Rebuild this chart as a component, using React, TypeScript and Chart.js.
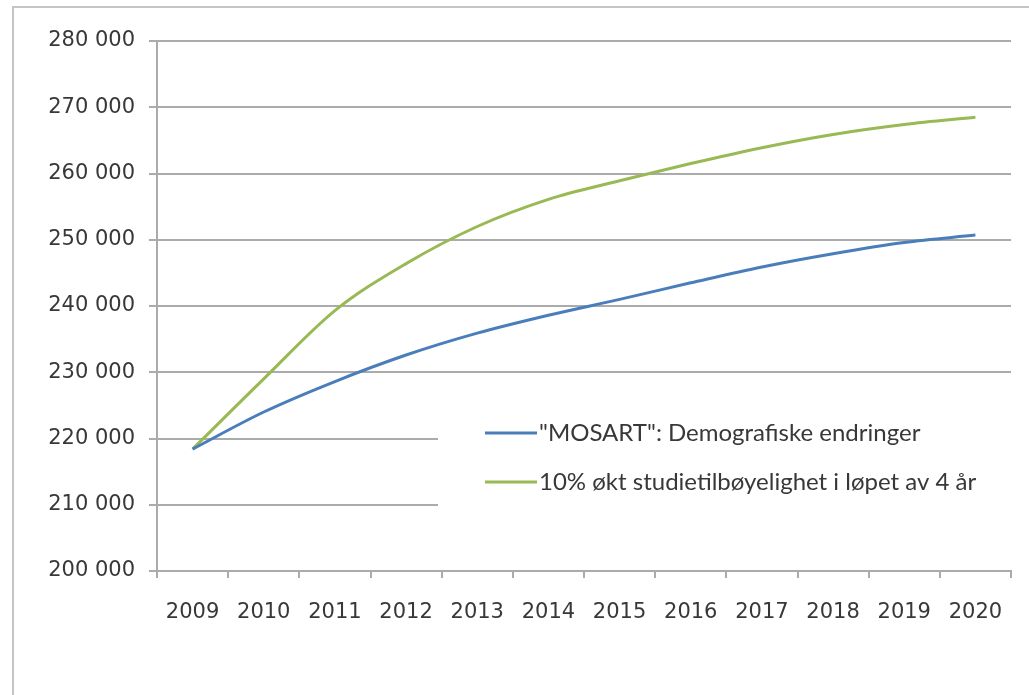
import React, { useEffect, useRef } from "react";
import { Chart, registerables } from "chart.js";

Chart.register(...registerables);

const years = ["2009", "2010", "2011", "2012", "2013", "2014", "2015", "2016", "2017", "2018", "2019", "2020"];
const mosart = [218400, 224000, 228600, 232600, 235900, 238600, 241000, 243500, 245900, 247900, 249600, 250700];
const increased = [218400, 229000, 239300, 246400, 252000, 256100, 258900, 261500, 263900, 265900, 267400, 268500];
const seriesLabels = ['"MOSART": Demografiske endringer', "10% økt studietilbøyelighet i løpet av 4 år"];
const seriesColors = ["#4A7EBB", "#98B954"];
const yMin = 200000;
const yMax = 280000;
const yStep = 10000;

const GRID = "#ababab";
const TEXT = "#383838";

const formatThousands = (v: number) => String(v).replace(/\B(?=(\d{3})+(?!\d))/g, " ");

const insideLegend = {
  id: "insideLegend",
  beforeDatasetsDraw(chart: any) {
    const { ctx, chartArea } = chart;
    ctx.save();
    ctx.fillStyle = "#ffffff";
    ctx.fillRect(438, 385, chartArea.right - 438, 170);
    const rows = [433, 482];
    chart.data.datasets.forEach((ds: any, i: number) => {
      const y = rows[i];
      ctx.strokeStyle = ds.borderColor;
      ctx.lineWidth = 3;
      ctx.beginPath();
      ctx.moveTo(485, y);
      ctx.lineTo(537, y);
      ctx.stroke();
      ctx.fillStyle = TEXT;
      ctx.font = "24px Lato";
      ctx.textAlign = "left";
      ctx.textBaseline = "middle";
      ctx.fillText(ds.label, 539, y);
    });
    ctx.restore();
  },
};

export default function App() {
  const canvasRef = useRef<HTMLCanvasElement | null>(null);

  useEffect(() => {
    if (!canvasRef.current) return;
    const chart = new Chart(canvasRef.current, {
      type: "line",
      data: {
        labels: years,
        datasets: [
          {
            label: seriesLabels[0],
            data: mosart,
            borderColor: seriesColors[0],
            backgroundColor: seriesColors[0],
            borderWidth: 3,
            pointRadius: 0,
            cubicInterpolationMode: "monotone",
            fill: false,
          },
          {
            label: seriesLabels[1],
            data: increased,
            borderColor: seriesColors[1],
            backgroundColor: seriesColors[1],
            borderWidth: 3,
            pointRadius: 0,
            cubicInterpolationMode: "monotone",
            fill: false,
          },
        ],
      },
      options: {
        animation: false,
        responsive: true,
        maintainAspectRatio: false,
        layout: { padding: { left: 0, top: 41, right: 18, bottom: 0 } },
        plugins: {
          legend: { display: false },
          tooltip: { enabled: false },
        },
        scales: {
          x: {
            offset: true,
            afterFit: (scale: any) => {
              scale.height = 124;
            },
            grid: {
              offset: true,
              drawOnChartArea: false,
              drawTicks: true,
              tickLength: 7,
              color: GRID,
              lineWidth: 2,
            },
            border: { display: true, color: GRID, width: 2 },
            ticks: {
              color: TEXT,
              font: { family: "DejaVu Sans", size: 21 },
              padding: 22,
              maxRotation: 0,
              autoSkip: false,
            },
          },
          y: {
            min: yMin,
            max: yMax,
            afterFit: (scale: any) => {
              scale.width = 157;
            },
            grid: {
              color: GRID,
              lineWidth: 2,
              tickLength: 8,
              drawTicks: true,
            },
            border: { display: true, color: GRID, width: 2 },
            ticks: {
              stepSize: yStep,
              color: TEXT,
              font: { family: "DejaVu Sans", size: 21 },
              padding: 14,
              callback: (v: any) => formatThousands(Number(v)),
            },
          },
        },
      },
      plugins: [insideLegend],
    });
    return () => chart.destroy();
  }, []);

  return (
    <div style={{ position: "fixed", left: 0, top: 0, width: 1029, height: 695, overflow: "hidden", background: "#fff" }}>
      <div
        style={{
          position: "absolute",
          left: 12,
          top: 6,
          width: 1100,
          height: 800,
          border: "2px solid #c4c4c4",
        }}
      />
      <div style={{ position: "absolute", left: 0, top: 0, width: 1029, height: 695 }}>
        <canvas ref={canvasRef} />
      </div>
    </div>
  );
}
